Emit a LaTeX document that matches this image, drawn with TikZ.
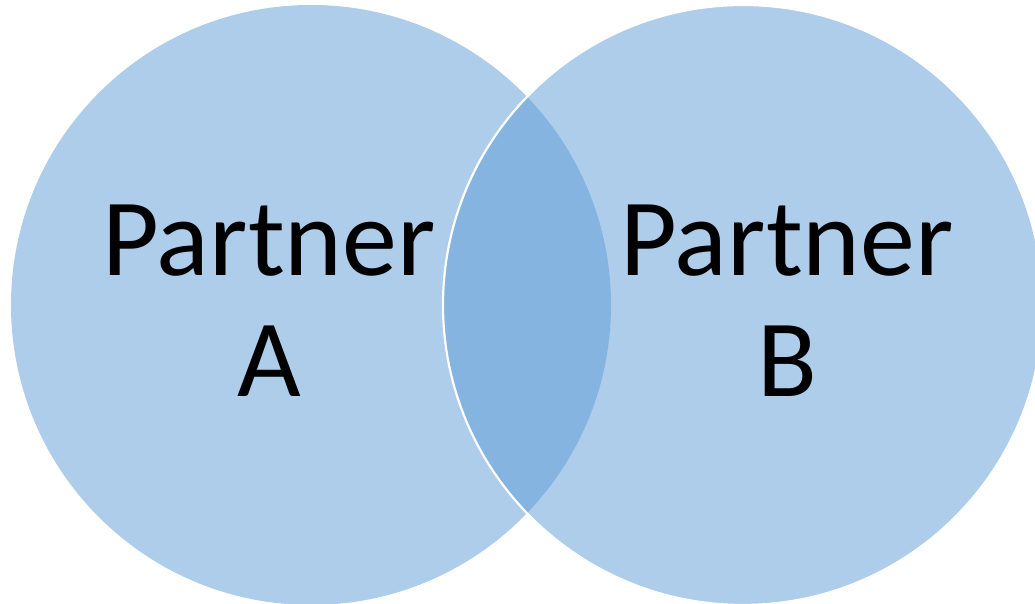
\documentclass[tikz,border=0pt]{standalone}
\usepackage{fontspec}
\setmainfont{Carlito}
\usepackage{tikz}
\definecolor{accentblue}{HTML}{5B9BD5}
\tikzset{partner/.style={align=center, inner sep=0pt, font=\fontsize{31.3}{34.4}\selectfont}}

\begin{document}
\begin{tikzpicture}
		%%%%% START %%%%%
		\useasboundingbox (0, 0) rectangle (10.35, 6.04);
		
		\fill[accentblue, fill opacity=0.5] (3.11, 2.99) circle (3.0);
		\draw[fill=accentblue, fill opacity=0.5, draw=white, line width=0.22mm] (7.43, 2.99) circle (3.0);
		
		\node[partner] (labelA) at (2.69, 3.03) {Partner\\A};
		\node[partner] (labelB) at (7.87, 3.03) {Partner\\B};
		%%%%% END %%%%%
	\end{tikzpicture}
\end{document}
